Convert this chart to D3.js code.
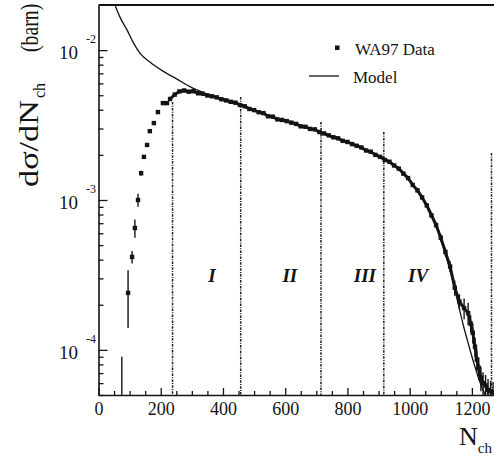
<!DOCTYPE html>
<html>
<head>
<meta charset="utf-8">
<script src="https://cdn.jsdelivr.net/npm/d3@7"></script>
<style>
  body { margin: 0; background: #fff; }
  svg { display: block; }
</style>
</head>
<body>
<svg id="chart" width="494" height="463"></svg>
<script>
// WA97 charged-multiplicity distribution, dσ/dN_ch in barn
const dataN = [75, 95, 108, 117, 127, 137, 146, 156, 165, 178, 191, 207, 220,
  230, 245, 260, 275, 290, 305, 320, 335, 350, 365,
  380, 395, 410, 425, 440, 455, 470, 485, 500, 515,
  530, 545, 560, 575, 590, 605, 620, 635, 650, 665,
  680, 695, 710, 725, 740, 755, 770, 785, 800, 815,
  830, 845, 860, 875, 890, 905, 920, 935, 950, 965,
  980, 995, 1010, 1025, 1040, 1055, 1070, 1085, 1100, 1115,
  1130, 1145, 1160, 1175,
  1188, 1196, 1203, 1210, 1216, 1222, 1229, 1236, 1244, 1252, 1260, 1268];
const dataV = [6.8e-5, 2.4e-4, 4.17e-4, 6.5e-4, 1.0e-3, 1.51e-3, 1.94e-3, 2.33e-3, 2.88e-3, 3.26e-3, 3.86e-3, 4.43e-3, 4.43e-3,
  4.72e-3, 5.05e-3, 5.30e-3, 5.38e-3, 5.28e-3, 5.32e-3, 5.15e-3, 5.12e-3, 4.98e-3, 4.92e-3,
  4.84e-3, 4.70e-3, 4.62e-3, 4.52e-3, 4.46e-3, 4.30e-3, 4.22e-3, 4.05e-3, 3.98e-3, 3.85e-3,
  3.80e-3, 3.62e-3, 3.60e-3, 3.45e-3, 3.42e-3, 3.36e-3, 3.28e-3, 3.22e-3, 3.10e-3, 3.08e-3,
  2.98e-3, 2.96e-3, 2.84e-3, 2.78e-3, 2.70e-3, 2.62e-3, 2.58e-3, 2.48e-3, 2.44e-3, 2.36e-3,
  2.30e-3, 2.24e-3, 2.14e-3, 2.10e-3, 2.00e-3, 1.94e-3, 1.85e-3, 1.80e-3, 1.70e-3, 1.62e-3,
  1.50e-3, 1.40e-3, 1.26e-3, 1.16e-3, 1.04e-3, 9.2e-4, 7.9e-4, 6.8e-4, 5.6e-4, 4.5e-4,
  3.6e-4, 2.6e-4, 2.1e-4, 1.9e-4,
  1.76e-4, 1.5e-4, 1.3e-4, 1.05e-4, 8.6e-5, 7.6e-5, 6.5e-5, 6.0e-5, 5.8e-5, 5.4e-5, 5.3e-5, 5.2e-5];
const dataErr = [2.2e-5, 1.0e-4, 4e-5, 9e-5, 1.0e-4, 6e-5, 6e-5, 6e-5, 6e-5, 6e-5, 6e-5, 6e-5, 6e-5,
  8e-5, 8e-5, 8e-5, 8e-5, 8e-5, 8e-5, 8e-5, 8e-5, 8e-5, 8e-5,
  7e-5, 7e-5, 7e-5, 7e-5, 7e-5, 7e-5, 7e-5, 7e-5, 7e-5, 7e-5,
  6e-5, 6e-5, 6e-5, 6e-5, 6e-5, 6e-5, 6e-5, 6e-5, 6e-5, 6e-5,
  5e-5, 5e-5, 5e-5, 5e-5, 5e-5, 5e-5, 5e-5, 5e-5, 5e-5, 5e-5,
  4e-5, 4e-5, 4e-5, 4e-5, 4e-5, 4e-5, 4e-5, 4e-5, 4e-5, 4e-5,
  3.5e-5, 3.5e-5, 3e-5, 3e-5, 3e-5, 3e-5, 3e-5, 3e-5, 3e-5, 3e-5,
  3e-5, 3e-5, 2.5e-5, 3e-5,
  3e-5, 2e-5, 2e-5, 1.6e-5, 1.5e-5, 1.3e-5, 1.2e-5, 1.1e-5, 1e-5, 1e-5, 9e-6, 9e-6];
// first index of the densely binned part that is drawn as a connected band
const denseStart = 13;

// model curve
const modelN = [40, 53, 69, 92, 111, 133, 165, 207, 252, 303, 368, 455, 510, 553, 618, 680, 717, 779, 843, 907,
  950, 990, 1013, 1046, 1078, 1107, 1130, 1152, 1171, 1187, 1206, 1229, 1245, 1260];
const modelV = [0.024, 0.020, 0.0166, 0.0136, 0.0113, 0.00955, 0.00832, 0.00724, 0.00641, 0.00558, 0.00494, 0.00437,
  0.0039, 0.0036, 0.0033, 0.0030, 0.00282, 0.00253, 0.00225, 0.00195,
  0.00172, 0.00145, 0.00125, 0.0010, 7.5e-4, 4.9e-4, 3.4e-4, 2.2e-4, 1.5e-4, 1.13e-4, 8.2e-5, 5.84e-5, 4.9e-5, 4.2e-5];

// centrality bin boundaries and where each dashed line stops
const boundaryN = [238, 457, 715, 917, 1263];
const boundaryTop = [4.5e-3, 4.86e-3, 3.31e-3, 2.84e-3, 2.06e-3];
const regionLabels = ["I", "II", "III", "IV"];
const regionN = [365, 615, 856, 1027];
const regionLabelV = 3.16e-4;

// axis ticks
const xTickValues = [0, 200, 400, 600, 800, 1000, 1200];
const xTickLabels = ["0", "200", "400", "600", "800", "1000", "1200"];
const yDecades = [1e-2, 1e-3, 1e-4];
const yExponents = ["-2", "-3", "-4"];

const legendItems = ["WA97 Data", "Model"];

const W = 494, H = 463;
const plot = { left: 98.5, right: 503, top: 5, bottom: 395 };
const font = "'Liberation Serif','Times New Roman',Times,serif";
const ink = "#141414";

const svg = d3.select("#chart");
const x = d3.scaleLinear().domain([0, 1300]).range([plot.left, plot.right]);
const y = d3.scaleLog().domain([5e-5, 2e-2]).range([plot.bottom, plot.top]);

svg.append("rect").attr("width", W).attr("height", H).attr("fill", "#fff");

svg.append("defs").append("clipPath").attr("id", "plotClip")
  .append("rect")
  .attr("x", plot.left).attr("y", plot.top)
  .attr("width", plot.right - plot.left).attr("height", plot.bottom - plot.top);

const inner = svg.append("g").attr("clip-path", "url(#plotClip)");

// dashed centrality boundaries
inner.append("g").selectAll("line").data(boundaryN).join("line")
  .attr("x1", d => x(d)).attr("x2", d => x(d))
  .attr("y1", (d, i) => y(boundaryTop[i]))
  .attr("y2", plot.bottom)
  .attr("stroke", "#1e1e1e").attr("stroke-width", 1.5)
  .attr("stroke-dasharray", "2.5,1.2,1,1.2");

// model line
const modelLine = d3.line()
  .x((d, i) => x(modelN[i]))
  .y(d => y(d))
  .curve(d3.curveMonotoneX);
inner.append("path").datum(modelV)
  .attr("d", modelLine)
  .attr("fill", "none").attr("stroke", ink).attr("stroke-width", 1.3);

// data: error bars
const pts = dataN.map((n, i) => ({ n, v: dataV[i], e: dataErr[i], i }));
inner.append("g").selectAll("line").data(pts).join("line")
  .attr("x1", d => x(d.n)).attr("x2", d => x(d.n))
  .attr("y1", d => y(d.v + d.e))
  .attr("y2", d => d.v - d.e > 1e-6 ? y(d.v - d.e) : plot.bottom + 5)
  .attr("stroke", ink).attr("stroke-width", 1.4);

// data: dense band
const dataLine = d3.line().x(d => x(d.n)).y(d => y(d.v));
inner.append("path").datum(pts.slice(denseStart))
  .attr("d", dataLine)
  .attr("fill", "none").attr("stroke", ink)
  .attr("stroke-width", 3).attr("stroke-linejoin", "round");

// data: markers
inner.append("g").selectAll("rect").data(pts.filter(d => d.i > 0)).join("rect")
  .attr("x", d => x(d.n) - 2.2).attr("y", d => y(d.v) - 2.2)
  .attr("width", 4.4).attr("height", 4.4)
  .attr("fill", ink);

// axes
const axisStyle = g => {
  g.selectAll("path.domain").attr("stroke", ink).attr("stroke-width", 1.6);
  g.selectAll(".tick line").attr("stroke", ink).attr("stroke-width", 1.3);
};

const xMinor = d3.range(0, 1301, 50).filter(v => v % 200 !== 0);
svg.append("g")
  .attr("transform", `translate(0,${plot.bottom})`)
  .call(d3.axisBottom(x).tickValues(xMinor).tickSizeInner(-4).tickSizeOuter(0).tickFormat(""))
  .call(g => g.select(".domain").remove())
  .call(axisStyle);

svg.append("g")
  .attr("transform", `translate(0,${plot.bottom})`)
  .call(d3.axisBottom(x).tickValues(xTickValues).tickSizeInner(-7).tickSizeOuter(0)
    .tickPadding(7).tickFormat((d, i) => xTickLabels[i]))
  .call(axisStyle)
  .call(g => g.selectAll("text")
    .attr("font-family", font).attr("font-size", 18).attr("fill", ink));

const yMinor = [];
[1e-5, 1e-4, 1e-3].forEach(dec => {
  for (let k = 2; k <= 9; k++) {
    const v = k * dec;
    if (v >= 5e-5 && v < 2e-2) yMinor.push(v);
  }
});
svg.append("g")
  .attr("transform", `translate(${plot.left},0)`)
  .call(d3.axisLeft(y).tickValues(yMinor).tickSizeInner(-5).tickSizeOuter(0).tickFormat(""))
  .call(g => g.select(".domain").remove())
  .call(axisStyle);

svg.append("g")
  .attr("transform", `translate(${plot.left},0)`)
  .call(d3.axisLeft(y).tickValues(yDecades).tickSizeInner(-9).tickSizeOuter(0).tickFormat(""))
  .call(axisStyle);

// decade labels written as 10 with a raised exponent
const yLab = svg.append("g").attr("font-family", font).attr("fill", ink);
yDecades.forEach((d, i) => {
  yLab.append("text").attr("x", 78).attr("y", y(d) + 9)
    .attr("text-anchor", "end").attr("font-size", 19).text("10");
  yLab.append("text").attr("x", 86).attr("y", y(d) - 7)
    .attr("font-size", 12).text(yExponents[i]);
});

// top frame edge
svg.append("line")
  .attr("x1", plot.left).attr("x2", plot.right)
  .attr("y1", plot.top).attr("y2", plot.top)
  .attr("stroke", ink).attr("stroke-width", 2);

// region labels
svg.append("g").selectAll("text").data(regionLabels).join("text")
  .attr("x", (d, i) => x(regionN[i]))
  .attr("y", y(regionLabelV) + 7)
  .attr("text-anchor", "middle")
  .attr("font-family", font).attr("font-style", "italic").attr("font-weight", "bold")
  .attr("font-size", 19).attr("fill", ink)
  .text(d => d);

// legend
const leg = svg.append("g").attr("font-family", font).attr("font-size", 17).attr("fill", ink);
leg.append("rect").attr("x", 335).attr("y", 45.5).attr("width", 4.5).attr("height", 4.5).attr("fill", ink);
leg.append("text").attr("x", 355).attr("y", 55).text(legendItems[0]);
leg.append("line").attr("x1", 309).attr("x2", 339).attr("y1", 76).attr("y2", 76)
  .attr("stroke", ink).attr("stroke-width", 1.3);
leg.append("text").attr("x", 353).attr("y", 83).text(legendItems[1]);

// axis titles
const yt = svg.append("g").attr("transform", "translate(38,187) rotate(-90)")
  .attr("font-family", font).attr("fill", ink);
yt.append("text").attr("x", 0).attr("y", 0).attr("font-size", 27)
  .attr("textLength", 87).attr("lengthAdjust", "spacingAndGlyphs").text("dσ/dN");
yt.append("text").attr("x", 89).attr("y", 7).attr("font-size", 16).text("ch");
yt.append("g").attr("transform", "translate(135,0) scale(0.76,1)")
  .append("text").attr("x", 0).attr("y", 0).attr("font-size", 26).text("(barn)");

const xt = svg.append("text").attr("x", 459).attr("y", 445)
  .attr("font-family", font).attr("fill", ink).attr("font-size", 26);
xt.append("tspan").text("N");
xt.append("tspan").attr("font-size", 15).attr("dy", 8).text("ch");
</script>
</body>
</html>
